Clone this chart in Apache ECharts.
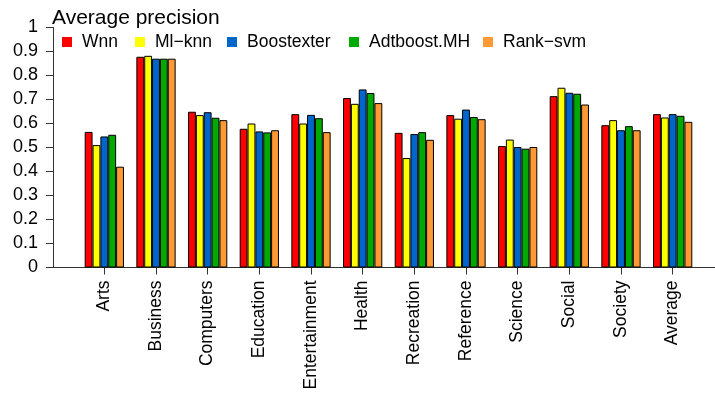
<!DOCTYPE html>
<html>
<head>
<meta charset="utf-8">
<script src="https://cdn.jsdelivr.net/npm/echarts@6/dist/echarts.min.js"></script>
<style>
  html, body { margin: 0; padding: 0; background: #fff; }
  #chart { width: 715px; height: 394px; }
</style>
</head>
<body>
<div id="chart"></div>
<script>
// Categories (Yahoo! subsets) and the average precision of each method
const categories = ['Arts', 'Business', 'Computers', 'Education', 'Entertainment', 'Health',
  'Recreation', 'Reference', 'Science', 'Social', 'Society', 'Average'];
const methods = ['Wnn', 'Ml\u2212knn', 'Boostexter', 'Adtboost.MH', 'Rank\u2212svm'];
const wnn        = [0.565, 0.878, 0.649, 0.578, 0.639, 0.706, 0.561, 0.635, 0.506, 0.714, 0.593, 0.639];
const mlknn      = [0.510, 0.882, 0.635, 0.600, 0.600, 0.682, 0.456, 0.620, 0.533, 0.749, 0.614, 0.625];
const boostexter = [0.546, 0.870, 0.647, 0.567, 0.636, 0.742, 0.556, 0.658, 0.502, 0.728, 0.572, 0.639];
const adtboost   = [0.553, 0.870, 0.624, 0.563, 0.622, 0.727, 0.564, 0.627, 0.495, 0.724, 0.589, 0.632];
const ranksvm    = [0.420, 0.870, 0.614, 0.572, 0.564, 0.685, 0.532, 0.618, 0.502, 0.679, 0.572, 0.607];
const yTicks = [0, 0.1, 0.2, 0.3, 0.4, 0.5, 0.6, 0.7, 0.8, 0.9, 1];

const seriesValues = [wnn, mlknn, boostexter, adtboost, ranksvm];
const colors = ['#FF0000', '#FFFF00', '#0066CC', '#00AA00', '#FF9933'];
const legendLeft = [62, 135, 227, 349, 483];
const FONT = '"Liberation Sans", Arial, Helvetica, sans-serif';

const chart = echarts.init(document.getElementById('chart'), null, { renderer: 'canvas' });

const option = {
  animation: false,
  backgroundColor: '#ffffff',
  textStyle: { fontFamily: FONT, color: '#000' },
  title: {
    text: 'Average precision',
    left: 52,
    top: 8,
    padding: 0,
    textStyle: { fontFamily: FONT, fontSize: 21, fontWeight: 'normal', color: '#000' }
  },
  legend: methods.map((m, i) => ({
    data: [m],
    left: legendLeft[i],
    top: 33,
    padding: 0,
    icon: 'rect',
    itemWidth: 10,
    itemHeight: 10,
    itemStyle: { borderWidth: 0 },
    selectedMode: false,
    textStyle: { fontFamily: FONT, fontSize: 17.5, color: '#000', padding: [0, 0, 0, 5] }
  })),
  grid: [
    { left: 78.5, right: 16.5, top: 27.5, bottom: 126.5, containLabel: false },
    { left: 53, right: 0, top: 27.5, bottom: 126.5, containLabel: false }
  ],
  xAxis: [
    {
      type: 'category',
      gridIndex: 0,
      data: categories,
      axisLine: { show: false },
      axisTick: { show: true, alignWithLabel: true, length: 7, lineStyle: { color: '#333' } },
      axisLabel: { rotate: 90, margin: 13, fontSize: 17.5, color: '#000', fontFamily: FONT, interval: 0 },
      splitLine: { show: false }
    },
    {
      // full-width baseline under the bars
      type: 'value',
      gridIndex: 1,
      min: 0,
      max: 1,
      axisLine: { show: true, onZero: false, lineStyle: { color: '#333', width: 1 } },
      axisTick: { show: false },
      axisLabel: { show: false },
      splitLine: { show: false }
    }
  ],
  yAxis: [
    {
      type: 'value',
      gridIndex: 0,
      min: 0,
      max: 1,
      interval: 0.1,
      offset: 25.5,
      axisLine: { show: true, lineStyle: { color: '#333' } },
      axisTick: { show: true, length: 7, lineStyle: { color: '#333' } },
      axisLabel: {
        margin: 15, fontSize: 18, color: '#000', fontFamily: FONT,
        formatter: v => String(yTicks.find(t => Math.abs(t - v) < 1e-9) ?? v)
      },
      splitLine: { show: false }
    },
    {
      type: 'value',
      gridIndex: 1,
      min: 0,
      max: 1,
      show: false
    }
  ],
  series: methods.map((m, i) => ({
    name: m,
    type: 'bar',
    xAxisIndex: 0,
    yAxisIndex: 0,
    data: seriesValues[i],
    barGap: '0%',
    barCategoryGap: '24%',
    itemStyle: { color: colors[i], borderColor: '#000', borderWidth: 1 }
  }))
};

chart.setOption(option);
</script>
</body>
</html>
